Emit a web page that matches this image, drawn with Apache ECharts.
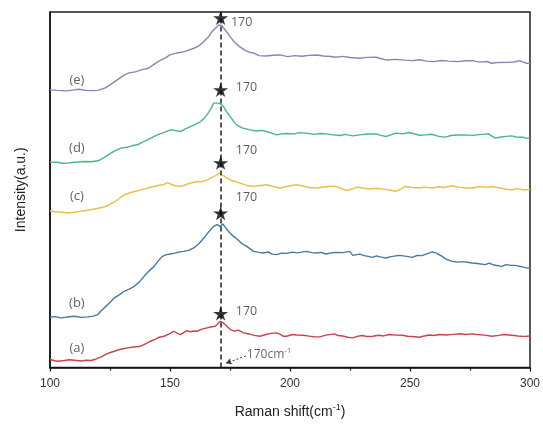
<!DOCTYPE html>
<html><head><meta charset="utf-8">
<script src="https://cdn.jsdelivr.net/npm/echarts@6/dist/echarts.min.js"></script>
<style>html,body{margin:0;padding:0;background:#fff}#c{width:543px;height:424px}</style>
</head><body><div id="c"></div>
<script>
// Raman spectra (offset intensity, a.u.)
const specE = [[100,278],[103,277.5],[107,277],[110,278],[112,278.7],[115,277.5],[118,277.3],[120,277.5],[123,280],[125,283],[128,288],[131,293],[133,295],[136,296.3],[138,298],[141,299.7],[143,303],[145,306.3],[148,310],[150,313],[153,315],[156,316.3],[158,318],[160,319.7],[162,322],[164,326.3],[166,331],[167.5,336.3],[169,340],[170.3,343],[171.5,342.5],[172.3,341.3],[174,335],[175,331.3],[177,325.5],[179,321.3],[181,318],[183,315.8],[185,314.7],[187,312.3],[190,312],[193,312.7],[196,313],[199,311.3],[202,312.3],[205,311.7],[208,312.6],[211,313],[214,312],[217,311.5],[219,310.7],[222,311.6],[225,310.5],[229,309.7],[232,310.6],[236,310.7],[238,309.2],[240,308],[244,308.6],[248,307.8],[251,307.3],[254,308.2],[257,306.8],[260,306.3],[263,307.4],[266,306.8],[270,306.3],[273,307.2],[276,307.3],[279,305.8],[282,306.4],[284,304.7],[287,305.5],[291,305.6],[294,306.2],[295.5,307.3],[297,306],[298.6,304.7],[300,304.5]];
const specD = [[100,205.7],[103,205.5],[105,204.5],[107.5,204.7],[110,205.5],[112,205.8],[114.4,206.3],[117,206],[120,207],[122,209.5],[125.4,214.7],[127,217],[129.5,219.7],[132,220.5],[134,222],[136.4,223],[138,225],[140.6,228],[143,231],[144.7,233],[147,235],[150.2,238],[152,237.5],[154.4,236.3],[156,238.5],[158.5,241.3],[161,244],[162.7,246.3],[164,249],[165.4,253],[167,259],[168.2,264.7],[169,265],[170.3,264.7],[171.3,263.5],[172.3,261.3],[173.5,256.5],[175.1,251.3],[176.5,246.5],[177.8,243],[180,240],[183.4,238],[186,236.8],[188,237.5],[190.3,236.3],[192,235],[194.4,233],[196.5,234],[198.6,234.3],[202,234],[204,235.2],[206.8,234.7],[210,233.5],[213,234.3],[215.1,234],[218,233],[221,232.3],[223,233.5],[226.2,232],[229,233],[232,233.8],[235.8,234],[238,232.5],[240,231.3],[242,233],[244.1,234.7],[247,234],[249.6,235.3],[252,233.8],[254,232.6],[256.5,233],[259,233.6],[262,231.5],[264.8,230.7],[267,232.3],[270,232.8],[273.1,233],[276,232.4],[279,233.2],[282.7,234],[284,232],[285.5,229.7],[288,230.8],[290,231.5],[292.4,232],[295,230.5],[297,230.6],[298.6,229.7],[300,230]];
const specC = [[100,157],[102,156],[105,155.5],[107,154.7],[110,155.5],[113,156.5],[117,158],[120,159.5],[122,160.5],[124,162],[127,166],[130.9,173],[134,175.5],[137,177.2],[140.6,179.7],[143,181],[145,182.3],[147,183],[148.9,185.2],[150.5,183.5],[152,182],[154.4,181.3],[156,182.5],[158,184.3],[161.3,186.3],[163,185.8],[165,187.5],[166.8,189.7],[168.5,191.5],[170.7,194.7],[172,192.5],[173.7,189.7],[176,187],[179.2,184.7],[182,182.3],[184.8,181.3],[187,182],[190.3,183],[193,181.3],[195.8,179.7],[198.6,181.3],[202.7,183],[206,181.5],[208,180.3],[211,179.7],[214,180.8],[217,181.5],[219.3,181.3],[221,179.5],[223.4,177.3],[226,178.8],[228,180.7],[230.3,179.7],[233,178.8],[236,179.5],[239,178.6],[242,177.5],[244.1,176.3],[246,178.5],[248.2,181.3],[251,180.2],[254,179.8],[256,180.6],[259.3,179.7],[262,181],[264,180.2],[267.5,182],[270,180.6],[273,179.8],[275.9,179.7],[279,181.2],[282,180.4],[284.1,181.3],[287,180],[290,178.5],[292.4,178],[295,179.2],[297,177.8],[298,178],[300,178.3]];
const specB = [[100,50.3],[102,51],[104.7,49.7],[107,50.5],[110.2,51.3],[113,50.2],[115.7,50.7],[118,51.5],[119.9,53],[121,56],[122.6,59.7],[124.5,64],[126.8,69.7],[129,73],[130.9,76.3],[133,78.5],[135.1,81.3],[137,85],[139.2,91.3],[141,96],[143.4,101.3],[145,106.5],[146.8,111.3],[148.5,113],[150.2,113.7],[152,114.5],[154,115.8],[155.8,116.3],[158,117.5],[159.9,119.7],[162,124],[164.1,129.7],[166,135.5],[168.2,141.3],[169.6,143],[170.9,141.3],[172,143.7],[173.5,139],[174.8,135],[176.5,131.3],[178.5,127.5],[180,124],[182,121.3],[184.8,116.3],[187,115.3],[188.9,114.7],[191,115.7],[192.5,113.5],[194.4,113],[196.5,114.5],[198.6,114.3],[201,115.5],[203,114.8],[206.8,116.3],[209,115],[211,114.6],[213,115.3],[215.1,113.7],[217,114.8],[219,115.2],[222,115],[224.8,116.3],[226.2,112.3],[229,113.5],[231,112],[234.5,110.3],[236,111.8],[238,110.5],[240,109.7],[242,111],[245.5,112.3],[248,111.5],[251,110.3],[253,112.3],[255,112],[257,113.8],[259.3,115.7],[261,114.5],[263.4,111.3],[265,108.5],[267.5,106.3],[270,105.5],[272,106],[275.9,104.7],[278,104.2],[281.4,103],[283,104.5],[285,102.6],[288.3,101.3],[290,103],[292,102.3],[293.8,102.3],[296,101.2],[298.6,99.7],[300,99.5]];
const specA = [[100,8],[102,6.8],[103.3,6.3],[106,7],[108,7.8],[110.2,7.3],[113,6.5],[115,7.2],[117.1,7],[119,8.3],[121.2,10.3],[123,12.8],[124.5,14.5],[126.8,16.3],[129,18],[130.5,18.8],[132.3,19.7],[135,20.5],[137.8,21.3],[140,24],[141.9,26.3],[144,28.5],[145.5,30.3],[147.5,31.3],[149.5,33.5],[151.6,36.3],[153,34.5],[154.4,33],[156,35.5],[157.1,37],[158.5,35.8],[160,36.5],[161.3,36.3],[163,38.2],[165.4,39.7],[167,40.6],[168.9,41.3],[170,44],[170.9,46.3],[172,45],[173,43],[174,40.5],[175.1,38],[177,36.5],[178.5,37.5],[180.6,34.7],[183,33.6],[185,32.2],[187.5,31.3],[190,33],[192,34.2],[194.4,34.7],[196,33.2],[197.2,31.3],[198.6,31.3],[201,33],[203,32.6],[205.5,32.3],[208,31.4],[210,30.8],[212.4,30.7],[215,32.4],[218.6,33.7],[220,32],[222,31.5],[224,30.3],[226.2,29.7],[228,31.2],[230,32],[232,31],[234.5,31.3],[237,32.3],[239,31.6],[241.4,33],[244,32.4],[246.9,32.3],[249,31.3],[251,31],[253.8,30.3],[256,31.6],[258,32.6],[260,32],[262.1,33],[265,32.5],[268,33.2],[271,33.8],[273,33],[275.9,33.7],[278,33],[281,32.4],[284.1,31.3],[287,32.2],[289,33],[292.4,32.3],[295,31.5],[297,31.2],[298.6,31.3],[300,31.5]];

const peakShift = 171.1;
const starPoints = [[171.1,350],[171.1,278],[171.1,205],[171.1,154.5],[171.1,54]];
const peakLabels = [[175.4,345.5,'170'],[177.4,280,'170'],[177.4,217,'170'],[177.4,170,'170'],[177.4,56,'170']];
const curveLabels = [[111.2,288,'(e)'],[111.2,219.7,'(d)'],[111.2,171.3,'(c)'],[111.2,64,'(b)'],[111.2,19,'(a)']];
const xTicks = [100,150,200,250,300];

const colors = {e:'#8a85b5', d:'#45b97f', c:'#e8c048', b:'#47789f', a:'#c8434c'};
const star = 'path://M50,0 L61.8,35.4 L100,35.4 L69.1,57.3 L80.9,92.7 L50,70.8 L19.1,92.7 L30.9,57.3 L0,35.4 L38.2,35.4 Z';
const txtFont = '"Open Sans", Lato, sans-serif';

function spec(data, color, extra){
  return Object.assign({type:'line', data:data, showSymbol:false, symbol:'none', silent:true,
    lineStyle:{color:color, width:1.4}, z:2}, extra||{});
}

const chart = echarts.init(document.getElementById('c'), null, {renderer:'canvas'});
chart.setOption({
  animation:false,
  backgroundColor:'#fff',
  grid:{left:50, right:10, top:12, bottom:56, show:true, borderColor:'#222', borderWidth:1.5, backgroundColor:'transparent'},
  xAxis:{type:'value', min:xTicks[0], max:xTicks[xTicks.length-1], interval:50,
    axisLine:{show:true, onZero:false, lineStyle:{color:'#111', width:1.5}},
    axisTick:{show:true, inside:false, length:4, lineStyle:{color:'#111', width:1.2}},
    minorTick:{show:true, splitNumber:2, length:3, lineStyle:{color:'#111', width:1.2}},
    splitLine:{show:false},
    axisLabel:{color:'#333', fontSize:12, margin:10, fontFamily:'"Liberation Sans", Arial, sans-serif'},
    name:'{a|Raman shift(cm}{s|-1}{a|)}', nameLocation:'middle', nameGap:36,
    nameTextStyle:{rich:{a:{fontSize:14, color:'#222', fontFamily:'"Liberation Sans", Arial, sans-serif'},
      s:{fontSize:9, color:'#222', verticalAlign:'top', padding:[0,0,8,0], fontFamily:'"Liberation Sans", Arial, sans-serif'}}}
  },
  yAxis:{type:'value', min:0, max:356,
    axisLine:{show:true, lineStyle:{color:'#111', width:1.5}},
    axisTick:{show:false}, axisLabel:{show:false}, splitLine:{show:false},
    name:'Intensity(a.u.)', nameLocation:'middle', nameGap:22, nameRotate:90,
    nameTextStyle:{fontSize:14, color:'#222', fontFamily:'"Liberation Sans", Arial, sans-serif'}
  },
  series:[
    spec(specA, colors.a, {markLine:{silent:true, symbol:['none','none'], label:{show:false},
      lineStyle:{color:'#222', type:[5,3], width:1.5},
      data:[{xAxis:peakShift}]}}),
    spec(specB, colors.b),
    spec(specC, colors.c),
    spec(specD, colors.d),
    spec(specE, colors.e),
    {type:'scatter', data:starPoints, symbol:star, symbolSize:[15,14], itemStyle:{color:'#000'}, z:5, silent:true},
    {type:'scatter', data:peakLabels, symbolSize:0, z:6, silent:true,
      label:{show:true, position:'right', distance:0, formatter:p=>p.value[2], color:'#333', fontSize:12.5, fontFamily:txtFont}},
    {type:'scatter', data:curveLabels, symbolSize:0, z:6, silent:true,
      label:{show:true, position:'inside', formatter:p=>p.value[2], color:'#3a3a3a', fontSize:13, fontFamily:txtFont}},
    {type:'scatter', data:[[182,13]], symbolSize:0, z:6, silent:true,
      label:{show:true, position:'right', distance:0, formatter:'{a|170cm}{s|-1}',
        rich:{a:{fontSize:12, color:'#444', fontFamily:txtFont}, s:{fontSize:8, color:'#444', verticalAlign:'top', padding:[0,0,7,0], fontFamily:txtFont}}},
      markLine:{silent:true, symbol:['none','arrow'], symbolSize:[5,6], label:{show:false},
        lineStyle:{color:'#333', type:[2,2], width:1},
        data:[[{coord:[181.6,11.5]},{coord:[173.3,4.3]}]]}}
  ]
});
</script></body></html>
